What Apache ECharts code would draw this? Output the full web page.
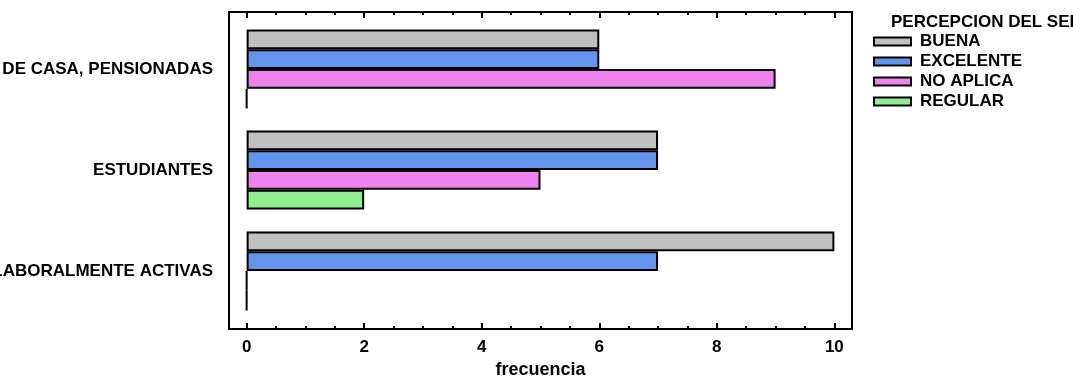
<!DOCTYPE html>
<html>
<head>
<meta charset="utf-8">
<script src="https://cdn.jsdelivr.net/npm/echarts@6/dist/echarts.min.js"></script>
<style>
  html, body { margin: 0; padding: 0; background: #fff; }
  #chart { width: 1073px; height: 378px; }
</style>
</head>
<body>
<div id="chart"></div>
<script>
const categories = ['AMAS DE CASA, PENSIONADAS', 'ESTUDIANTES', 'PERSONAS LABORALMENTE ACTIVAS']
const seriesNames = ['BUENA', 'EXCELENTE', 'NO APLICA', 'REGULAR']
const buena = [6, 7, 10]
const excelente = [6, 7, 7]
const noAplica = [9, 5, 0]
const regular = [0, 2, 0]
const majorTicks = [0, 2, 4, 6, 8, 10]
const minorTicks = [0.5, 1, 1.5, 2.5, 3, 3.5, 4.5, 5, 5.5, 6.5, 7, 7.5, 8.5, 9, 9.5]

const colors = ['#c0c0c0', '#6495ed', '#ee82ee', '#90ee90']
const font = 'Liberation Sans, Arial, sans-serif'

const chart = echarts.init(document.getElementById('chart'))

// frame axes (grid 0): ticks top and bottom, labels only on the bottom major axis
function xAx(pos, ticks, len, labels) {
  return {
    type: 'value', gridIndex: 0, position: pos, min: -0.3, max: 10.3,
    axisLine: { show: false },
    splitLine: { show: false },
    axisTick: { show: true, inside: true, length: len, customValues: ticks,
      lineStyle: { color: '#000', width: 2 } },
    axisLabel: labels
      ? { show: true, customValues: ticks, color: '#000', fontFamily: font, fontWeight: 'bold', fontSize: 17, margin: 10 }
      : { show: false },
    name: labels ? 'frecuencia' : '',
    nameLocation: 'middle', nameGap: 31,
    nameTextStyle: { color: '#000', fontFamily: font, fontWeight: 'bold', fontSize: 18 }
  }
}

const data = [buena, excelente, noAplica, regular]

chart.setOption({
  animation: false,
  title: { text: 'PERCEPCION DEL SERVICIO', left: 891, top: 14, padding: 0,
    textStyle: { color: '#000', fontFamily: font, fontWeight: 'bold', fontSize: 17 } },
  legend: {
    orient: 'vertical', left: 873, top: 33, padding: 0, icon: 'rect',
    itemWidth: 37, itemHeight: 8, itemGap: 3,
    data: seriesNames,
    itemStyle: { borderColor: '#000', borderWidth: 2 },
    textStyle: { color: '#000', fontFamily: font, fontWeight: 'bold', fontSize: 17, lineHeight: 17, padding: [0, 0, 0, 4] }
  },
  grid: [
    { left: 229, right: 221, top: 12, bottom: 49, outerBoundsMode: 'none', containLabel: false,
      show: true, borderColor: '#000', borderWidth: 2, backgroundColor: 'transparent' },
    { left: 229, right: 221, top: 18.5, bottom: 56.5, outerBoundsMode: 'none', containLabel: false }
  ],
  xAxis: [
    xAx('bottom', majorTicks, 6, true),
    xAx('bottom', minorTicks, 3, false),
    xAx('top', majorTicks, 6, false),
    xAx('top', minorTicks, 3, false),
    { type: 'value', gridIndex: 1, min: -0.3, max: 10.3, show: false, splitLine: { show: false } }
  ],
  yAxis: [
    { type: 'value', gridIndex: 0, show: false, splitLine: { show: false } },
    {
      type: 'category', gridIndex: 1, data: categories, inverse: true,
      axisLine: { show: false }, axisTick: { show: false },
      axisLabel: { color: '#000', fontFamily: font, fontWeight: 'bold', fontSize: 17, margin: 16, padding: [4, 0, 0, 0] }
    }
  ],
  series: seriesNames.map((name, i) => ({
    name, type: 'bar', data: data[i], xAxisIndex: 4, yAxisIndex: 1,
    barGap: 0, barCategoryGap: '22%',
    itemStyle: { color: colors[i], borderColor: '#000', borderWidth: 2 }
  }))
})
</script>
</body>
</html>
